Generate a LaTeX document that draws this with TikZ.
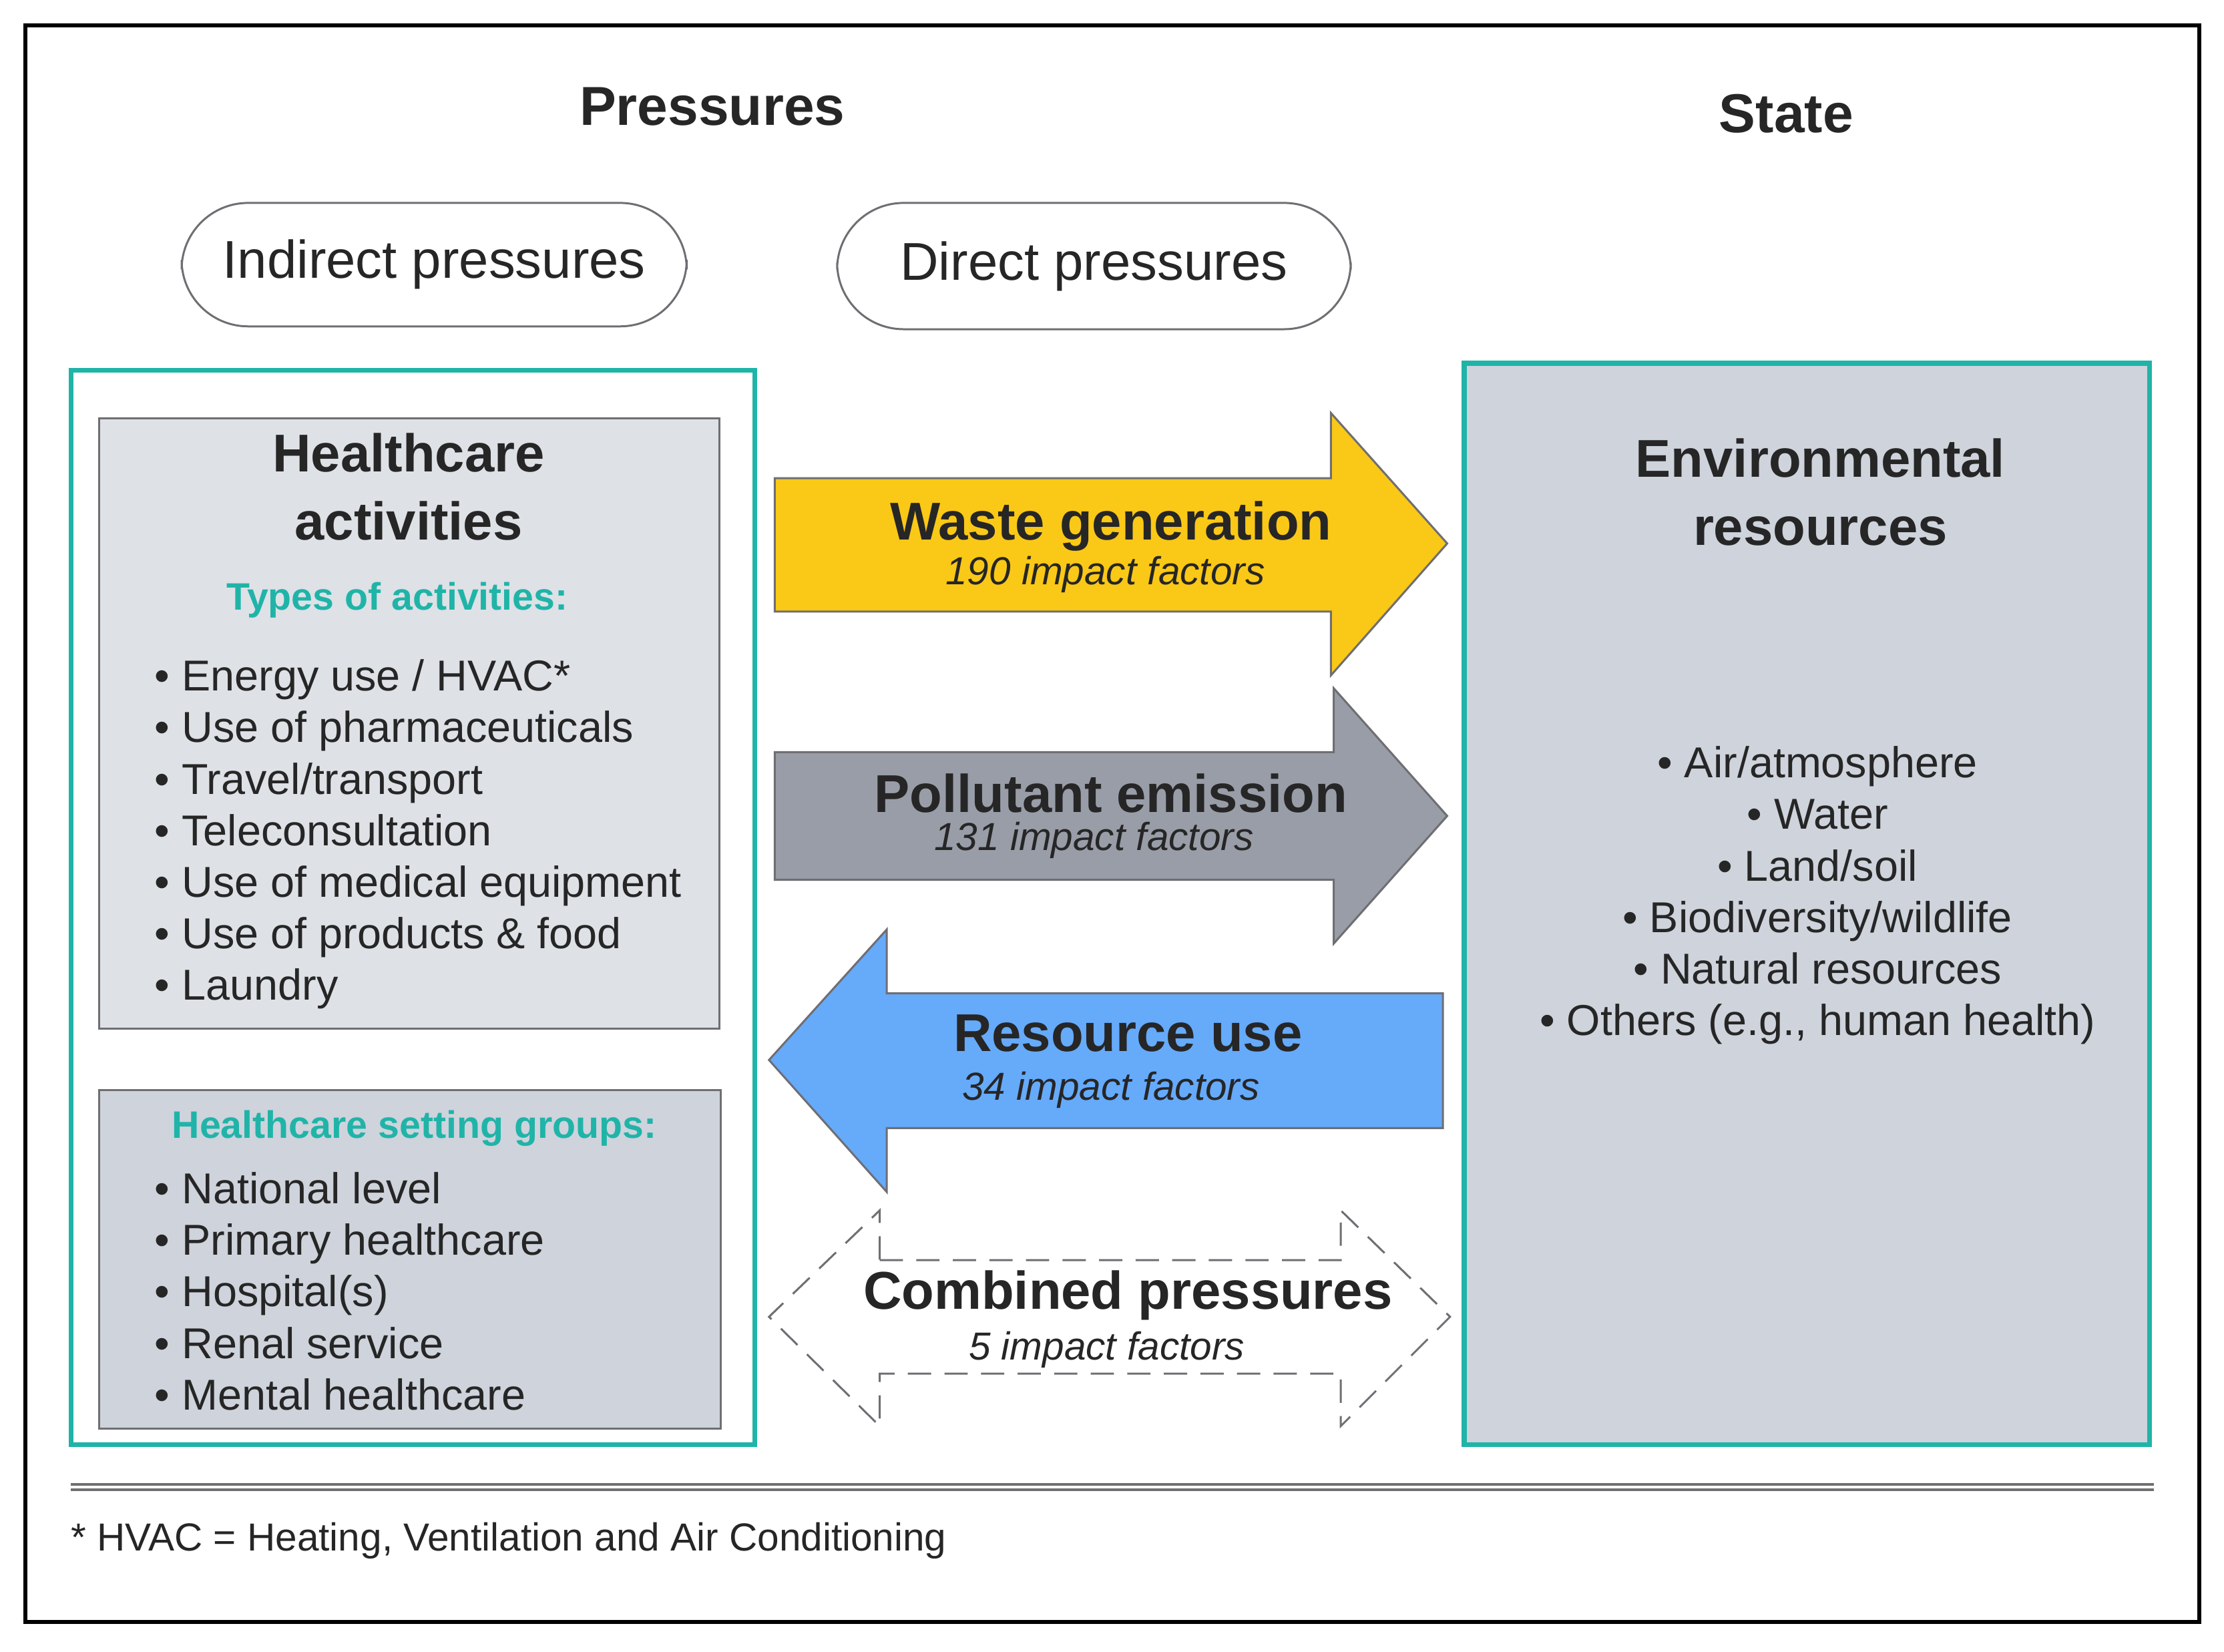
\documentclass[tikz,border=0pt]{standalone}
\usepackage{fontspec}
\setmainfont{Liberation Sans}
\begin{document}
\definecolor{teal1}{RGB}{32,180,168}
\definecolor{lgray}{RGB}{222,225,230}
\definecolor{mgray}{RGB}{206,211,220}
\definecolor{bgray}{RGB}{110,110,115}
\definecolor{wy}{RGB}{250,200,22}
\definecolor{pg}{RGB}{152,157,167}
\definecolor{rb}{RGB}{102,170,250}
\begin{tikzpicture}[x=0.03cm,y=-0.03cm,
  hdr/.style={font=\fontsize{33}{38}\selectfont\bfseries,text=black!85},
  pill/.style={draw=bgray,line width=1.2pt,rounded corners=40pt,font=\fontsize{32}{36}\selectfont,text=black!85},
  tealbox/.style={draw=teal1,line width=3pt},
  gbox/.style={draw=bgray,line width=1.2pt},
  ttl/.style={font=\fontsize{32}{41}\selectfont\bfseries,text=black!85,align=center},
  sub/.style={font=\fontsize{23}{26}\selectfont\bfseries,text=teal1},
  bl/.style={font=\fontsize{26}{31}\selectfont,text=black!85,anchor=west,align=left},
  it/.style={font=\fontsize{23.5}{26}\selectfont\itshape,text=black!85},
  arr/.style={draw=bgray,line width=1.2pt,line join=miter}]
\useasboundingbox (0,0) rectangle (1567.5,1163.8);
\draw[line width=2.5pt] (18,18) rectangle (1550,1143);
\node[hdr] (p) at (502,75) {Pressures};
\node[hdr] (s) at (1259,80) {State};
\draw[pill] (128,143) rectangle (484,230) node[midway,draw=none] (ipt) {Indirect pressures};
\draw[pill] (590,143) rectangle (952,232) node[midway,draw=none] (dpt) {Direct pressures};
% left
\draw[tealbox] (50,261) rectangle (532,1018);
\draw[gbox,fill=lgray] (70,295) rectangle (507,725);
\node[ttl] (ha) at (288,343) {Healthcare\\activities};
\node[sub] (ta) at (280,423) {Types of activities:};
\node[bl] (al) at (105,588) {\textbullet\ Energy use / HVAC*\\\textbullet\ Use of pharmaceuticals\\\textbullet\ Travel/transport\\\textbullet\ Teleconsultation\\\textbullet\ Use of medical equipment\\\textbullet\ Use of products \& food\\\textbullet\ Laundry};
\draw[gbox,fill=mgray] (70,768) rectangle (508,1007);
\node[sub] (hs) at (292,795) {Healthcare setting groups:};
\node[bl] (sl) at (105,910) {\textbullet\ National level\\\textbullet\ Primary healthcare\\\textbullet\ Hospital(s)\\\textbullet\ Renal service\\\textbullet\ Mental healthcare};
% right
\draw[tealbox,fill=mgray] (1032,256) rectangle (1515,1018);
\node[ttl] (er) at (1283,347) {Environmental\\resources};
\node[font=\fontsize{26}{31}\selectfont,text=black!85,align=center] (el) at (1281,631) {\textbullet\ Air/atmosphere\\\textbullet\ Water\\\textbullet\ Land/soil\\\textbullet\ Biodiversity/wildlife\\\textbullet\ Natural resources\\\textbullet\ Others (e.g., human health)};
% arrows
\draw[arr,fill=wy] (546,337) -- (938,337) -- (938,291) -- (1020,383) -- (938,476) -- (938,431) -- (546,431) -- cycle;
\node[ttl] (wg) at (783,371) {Waste generation};
\node[it] (wgi) at (779,405) {190 impact factors};
\draw[arr,fill=pg] (546,530) -- (940,530) -- (940,485) -- (1020,575) -- (940,665) -- (940,620) -- (546,620) -- cycle;
\node[ttl] (pe) at (783,559) {Pollutant emission};
\node[it] (pei) at (771,592) {131 impact factors};
\draw[arr,fill=rb] (1017,700) -- (625,700) -- (625,655) -- (542,747) -- (625,840) -- (625,795) -- (1017,795) -- cycle;
\node[ttl] (ru) at (795,728) {Resource use};
\node[it] (rui) at (783,768) {34 impact factors};
\draw[arr,dashed,dash pattern=on 14pt off 8pt] (620,888) -- (945,888) -- (945,853) -- (1022,928) -- (945,1005) -- (945,968) -- (620,968) -- (620,1005) -- (542,928) -- (620,853) -- cycle;
\node[ttl] (cp) at (795,913) {Combined pressures};
\node[it] (cpi) at (780,951) {5 impact factors};
% footer
\draw[bgray,line width=1.5pt,double=white,double distance=1.5pt] (50,1048) -- (1518,1048);
\node[font=\fontsize{23.5}{26}\selectfont,text=black!85,anchor=west] (fn) at (46,1086) {* HVAC = Heating, Ventilation and Air Conditioning};
\end{tikzpicture}
\end{document}
